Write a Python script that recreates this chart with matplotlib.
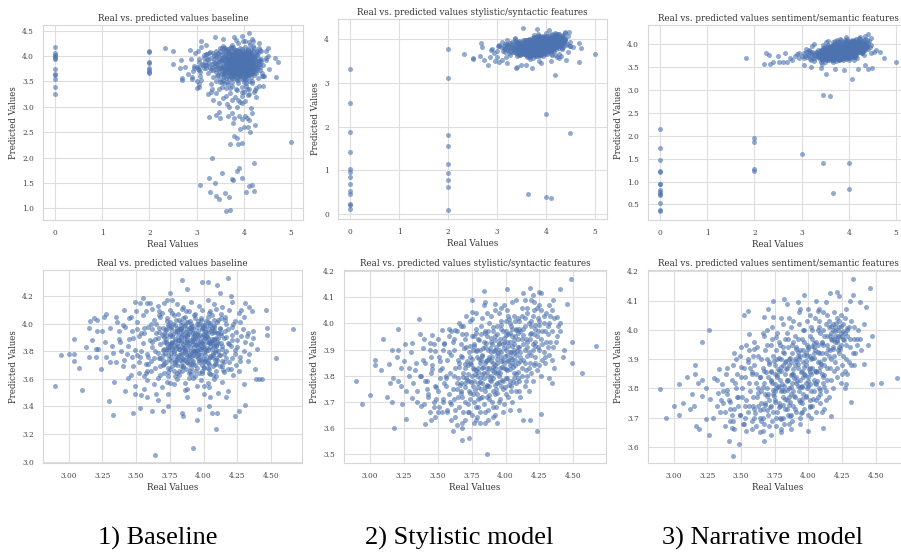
import matplotlib
matplotlib.use("Agg")
import matplotlib.pyplot as plt
import seaborn as sns
import numpy as np

# ---- data (real value, predicted value) ----

# baseline: points seen in the zoomed (lower) panel, outer ring
base_edge = [(2.90,3.55),(2.94,3.77),(3.00,3.78),(3.04,3.78),(3.04,3.89),(3.04,3.73),(3.08,3.68),(3.10,3.52),
    (3.13,3.83),(3.15,3.97),(3.15,3.76),(3.16,4.02),(3.17,3.88),(3.19,4.04),(3.20,3.82),(3.21,4.03),(3.21,3.95),
    (3.22,3.82),(3.20,3.76),(3.24,3.67),(3.25,3.95),(3.26,4.05),(3.27,3.87),(3.28,3.76),(3.28,4.07),(3.30,3.44),
    (3.31,3.97),(3.31,3.72),(3.32,3.84),(3.33,3.34),(3.34,3.58),(3.35,4.05),(3.35,3.72),(3.36,4.01),(3.37,3.95),
    (3.38,3.87),(3.39,3.80),(3.40,3.69),(3.41,4.10),(3.42,3.51),(3.42,3.98),(3.43,3.78),(3.44,3.61),(3.45,3.89),
    (3.46,4.05),(3.47,3.76),(3.48,3.35),(3.49,4.16),(3.49,3.49),(3.49,3.55),(3.51,3.96),(3.52,3.72),(3.53,3.39),
    (3.53,4.15),(3.54,3.48),(3.54,3.93),(3.55,4.19),(3.56,3.53),(3.56,3.62),(3.57,3.64),(3.58,3.47),(3.59,3.76),
    (3.60,4.15),(3.62,3.37),(3.63,3.56),(3.64,3.05),(3.65,3.49),(3.66,3.45),(3.67,4.09),(3.70,3.37),(3.71,4.15),
    (3.74,3.40),(3.74,3.49),(3.75,3.57),(3.75,4.22),(3.77,4.17),(3.84,4.32),(3.84,3.35),(3.85,3.33),(3.86,3.52),
    (3.88,4.25),(3.88,3.47),(3.92,3.10),(3.95,3.30),(3.97,3.38),(3.99,4.30),(4.00,3.49),(4.00,3.55),(4.03,4.30),
    (4.04,3.40),(4.05,3.47),(4.06,3.35),(4.09,3.24),(4.10,4.28),(4.10,3.35),(4.11,3.50),(4.12,4.22),(4.17,3.47),
    (4.18,4.33),(4.18,3.51),(4.20,4.20),(4.23,3.33),(4.26,3.37),(4.26,3.66),(4.30,3.56),(4.31,3.41),(4.31,4.15),
    (4.32,3.91),(4.33,3.73),(4.34,4.12),(4.36,4.09),(4.37,3.95),(4.37,3.90),(4.38,3.67),(4.39,3.60),(4.40,3.82),
    (4.41,3.60),(4.43,3.60),(4.46,4.10),(4.47,3.97),(4.47,3.92),(4.54,3.75),(4.66,3.96)]

# baseline: dense middle of the cloud
base_core = [(3.58,4.15),(3.66,4.13),(3.73,4.17),(3.80,4.14),(3.85,4.12),(3.91,4.16),(3.97,4.13),(4.03,4.17),
    (4.08,4.14),(4.14,4.12),(4.21,4.16),
    (3.50,4.09),(3.62,4.11),(3.69,4.08),(3.75,4.10),(3.81,4.07),(3.84,4.11),(3.89,4.09),(3.94,4.07),(3.99,4.10),
    (4.04,4.08),(4.09,4.11),(4.13,4.07),(4.19,4.10),(4.26,4.08),
    (3.45,4.04),(3.55,4.06),(3.63,4.03),(3.68,4.05),(3.73,4.02),(3.78,4.06),(3.82,4.03),(3.86,4.05),(3.90,4.02),
    (3.93,4.06),(3.98,4.04),(4.02,4.02),(4.06,4.06),(4.11,4.03),(4.16,4.05),(4.23,4.02),(4.30,4.05),
    (3.40,3.99),(3.51,4.01),(3.59,3.98),(3.65,4.00),(3.70,3.97),(3.75,4.01),(3.79,3.99),(3.83,3.97),(3.87,4.01),
    (3.91,3.98),(3.95,4.00),(3.99,3.97),(4.03,4.01),(4.08,3.99),(4.12,3.97),(4.17,4.00),(4.21,3.98),(4.27,4.01),
    (3.47,3.95),(3.56,3.93),(3.62,3.96),(3.67,3.94),(3.72,3.92),(3.76,3.96),(3.80,3.94),(3.84,3.92),(3.88,3.96),
    (3.92,3.93),(3.96,3.95),(4.00,3.92),(4.04,3.96),(4.08,3.94),(4.13,3.92),(4.18,3.96),(4.24,3.94),(4.33,3.93),
    (3.37,3.89),(3.52,3.91),(3.60,3.88),(3.66,3.90),(3.71,3.87),(3.75,3.91),(3.79,3.89),(3.83,3.87),(3.86,3.91),
    (3.90,3.88),(3.94,3.90),(3.98,3.87),(4.02,3.91),(4.06,3.89),(4.10,3.87),(4.15,3.90),(4.21,3.88),(4.28,3.91),
    (3.44,3.84),(3.55,3.86),(3.62,3.83),(3.68,3.85),(3.73,3.82),(3.77,3.86),(3.81,3.84),(3.85,3.82),(3.89,3.86),
    (3.93,3.83),(3.97,3.85),(4.01,3.82),(4.05,3.86),(4.09,3.84),(4.14,3.82),(4.19,3.85),(4.25,3.83),(4.35,3.85),
    (3.33,3.79),(3.49,3.81),(3.58,3.78),(3.64,3.80),(3.70,3.77),(3.74,3.81),(3.78,3.79),(3.82,3.77),(3.86,3.81),
    (3.90,3.78),(3.94,3.80),(3.98,3.77),(4.03,3.81),(4.07,3.79),(4.12,3.77),(4.17,3.80),(4.23,3.78),(4.30,3.80),
    (3.41,3.74),(3.53,3.76),(3.61,3.73),(3.67,3.75),(3.72,3.72),(3.76,3.76),(3.80,3.74),(3.84,3.72),(3.88,3.76),
    (3.92,3.73),(3.96,3.75),(4.00,3.72),(4.05,3.76),(4.10,3.74),(4.15,3.72),(4.21,3.75),(4.27,3.73),
    (3.48,3.69),(3.57,3.71),(3.64,3.68),(3.70,3.70),(3.75,3.67),(3.79,3.71),(3.83,3.69),(3.87,3.67),(3.91,3.71),
    (3.95,3.68),(3.99,3.70),(4.04,3.67),(4.09,3.71),(4.14,3.69),(4.20,3.67),
    (3.52,3.64),(3.61,3.66),(3.68,3.63),(3.74,3.65),(3.79,3.62),(3.84,3.66),(3.89,3.64),(3.94,3.62),(3.99,3.66),
    (4.04,3.64),(4.09,3.62),(4.15,3.65),(4.22,3.63),
    (3.58,3.59),(3.66,3.61),(3.73,3.58),(3.80,3.60),(3.86,3.57),(3.92,3.61),(3.98,3.59),(4.03,3.57),(4.08,3.60),
    (4.14,3.58),(3.69,3.54),(3.78,3.56),(3.88,3.53),(3.95,3.55),(4.04,3.54),
    (3.67,3.97),(3.72,3.89),(3.77,3.83),(3.81,3.91),(3.84,3.78),(3.87,3.94),(3.89,3.71),(3.92,3.85),(3.95,3.98),
    (3.97,3.79),(4.00,3.88),(4.03,3.74),(4.06,3.93),(4.09,3.81),(3.70,3.81),(3.74,3.68),(3.79,3.95),(3.83,3.99),
    (3.86,3.74),(3.88,3.88),(3.91,4.00),(3.94,3.70),(3.96,3.91),(3.99,3.83),(4.01,3.95),(4.04,3.86),(4.07,3.69),
    (4.11,3.90),(3.68,3.75),(3.73,4.04),(3.76,3.86),(3.80,3.70),(3.83,3.88),(3.85,4.04),(3.88,3.81),(3.90,3.66),
    (3.93,3.92),(3.96,3.84),(3.98,4.03),(4.01,3.77),(4.05,3.99),(4.08,3.84),(4.12,3.96),(3.71,3.93),(3.76,3.79),
    (3.82,3.96),(3.86,3.84),(3.89,3.97),(3.92,3.77),(3.97,3.72),(4.00,3.99),(4.03,3.90),(4.07,3.77),(4.13,3.86)]

base_core2 = [(3.62,3.87),(3.66,3.79),(3.69,3.92),(3.71,3.64),(3.73,3.85),(3.74,3.99),(3.76,3.73),(3.77,3.91),
    (3.78,3.66),(3.79,3.84),(3.80,3.97),(3.81,3.76),(3.82,3.63),(3.83,3.93),(3.84,3.83),(3.85,3.69),(3.86,3.99),
    (3.87,3.78),(3.88,3.91),(3.89,3.61),(3.90,3.83),(3.91,3.74),(3.92,3.96),(3.93,3.87),(3.94,3.66),(3.95,3.81),
    (3.96,4.02),(3.97,3.92),(3.98,3.74),(3.99,3.86),(4.00,3.68),(4.01,3.90),(4.02,3.80),(4.03,4.05),(4.04,3.71),
    (4.05,3.83),(4.06,3.97),(4.07,3.63),(4.08,3.89),(4.09,3.75),(4.10,4.01),(4.11,3.80),(4.12,3.69),(4.13,3.93),
    (4.15,3.78),(4.16,4.03),(4.18,3.86),(4.19,3.72),(4.21,3.92),(4.23,3.81),(3.59,3.71),(3.61,4.00),(3.64,3.89),
    (3.67,4.06),(3.70,3.74),(3.72,3.96),(3.75,3.84),(3.77,4.08),(3.79,3.72),(3.81,3.88),(3.83,4.01),(3.84,3.75),
    (3.86,3.87),(3.87,4.09),(3.89,3.77),(3.90,3.95),(3.91,3.68),(3.93,3.80),(3.94,4.04),(3.95,3.89),(3.97,3.64),
    (3.98,3.82),(3.99,3.99),(4.01,3.73),(4.02,3.94),(4.04,3.87),(4.05,4.09),(4.06,3.76),(4.08,3.98),(4.09,3.66),
    (4.11,3.86),(4.13,4.04),(4.14,3.73),(4.16,3.95),(4.18,3.67),(4.20,3.84),(4.22,4.00),(4.25,3.88),(4.27,3.76),
    (4.29,3.96),(3.54,3.80),(3.56,3.97),(3.58,3.66),(3.63,3.75),(3.65,3.93),(3.68,3.69),(3.71,3.82),(3.74,3.62),
    (3.76,3.98),(3.78,3.80),(3.80,3.64),(3.82,3.82),(3.85,3.95),(3.88,3.72),(3.92,3.89),(3.96,3.77),(4.00,3.97),
    (4.03,3.68),(4.07,3.85),(4.10,3.93),(4.14,3.84),(4.17,3.75),(4.24,3.70),(4.31,3.87),(3.48,3.90),(3.51,3.77),
    (3.46,3.63),(4.34,3.78),(4.28,4.10),(3.57,4.09)]

base_core3 = [(3.705,3.905),(3.715,3.785),(3.725,3.955),(3.735,3.835),(3.745,3.745),(3.755,3.925),(3.765,3.815),
    (3.775,3.995),(3.785,3.875),(3.795,3.765),(3.805,3.945),(3.815,3.815),(3.825,3.735),(3.835,3.905),(3.845,3.855),
    (3.855,3.985),(3.865,3.795),(3.875,3.925),(3.885,3.845),(3.895,3.755),(3.905,3.965),(3.915,3.875),(3.925,3.805),
    (3.935,3.935),(3.945,3.765),(3.955,3.855),(3.965,3.995),(3.975,3.815),(3.985,3.905),(3.995,3.745),(4.005,3.855),
    (4.015,3.985),(4.025,3.825),(4.035,3.935),(4.045,3.765),(4.055,3.875),(4.065,3.815),(4.075,3.955),(4.085,3.735),
    (4.095,3.895),(3.725,3.865),(3.745,3.985),(3.765,3.865),(3.785,3.735),(3.805,3.855),(3.825,3.965),(3.845,3.745),
    (3.865,3.895),(3.885,4.015),(3.905,3.805),(3.925,3.905),(3.945,3.845),(3.965,3.735),(3.985,3.965),(4.005,3.795),
    (4.025,3.905),(4.045,4.005),(4.065,3.865),(4.085,3.795),(4.105,3.935),(3.735,3.775),(3.775,3.925),(3.815,3.885),
    (3.855,3.825),(3.895,3.925),(3.935,3.795),(3.975,3.875),(4.015,3.745),(4.055,3.945),(4.095,3.845),(3.795,4.025),
    (3.835,3.785),(3.875,3.725),(3.915,3.985),(3.955,3.925),(3.995,3.835),(4.035,3.865),(4.075,3.885),(4.115,3.775),
    (3.755,3.855),(3.795,3.825),(3.835,3.965),(3.875,3.865),(3.915,3.765),(3.955,3.805),(3.995,3.925),(4.035,3.715),
    (4.075,4.025),(3.705,3.705),(3.765,3.695),(3.845,3.685),(3.925,3.705),(4.005,3.685),(4.085,3.705),(4.145,3.665),
    (3.985,3.645),(3.905,3.635),(3.815,3.655),(4.045,3.635),(4.165,3.905)]

# baseline: points only in the full (upper) panel
base_zero_pred = [4.17, 4.05, 4.02, 4.00, 3.97, 3.94, 3.74, 3.65, 3.62, 3.54, 3.39, 3.25]
base_two_pred = [4.10, 4.07, 3.89, 3.86, 3.76, 3.73, 3.69, 3.66]
base_extra = [(2.33,4.15),(2.50,4.09),(2.50,3.84),(2.64,3.76),(2.67,3.92),(2.69,3.56),(2.70,3.52),(2.76,3.79),
    (2.85,4.11),(2.90,3.59),(2.95,3.80),(2.88,3.95),(2.93,3.70),(2.97,4.05),(2.82,3.65),
    (3.09,4.30),(3.38,4.37),(3.78,4.37),(4.11,4.45),(4.32,4.25),(4.52,4.15),(4.50,3.99),(4.72,3.88),(4.68,3.58),
    (4.40,3.41),(3.55,4.33),(3.95,4.40),(4.20,4.30),(3.20,4.22),
    (3.02,4.10),(3.05,3.95),(3.03,3.75),(3.08,3.60),(3.10,4.18),(3.12,3.85),(3.00,3.50),(3.05,3.45),
    (3.00,3.36),(3.06,3.38),(3.24,3.25),(3.34,3.13),(3.48,3.07),(3.69,3.00),(3.75,3.13),(3.88,3.13),(3.96,3.07),
    (4.03,3.12),(4.25,3.20),(4.16,2.97),(3.55,3.18),(3.62,3.22),(3.82,3.20),(4.10,3.25),(3.42,3.28),(3.95,3.22),
    (4.22,3.30),(3.30,3.30),(3.70,3.28),(4.00,3.30),
    (3.26,2.79),(3.41,2.84),(3.50,2.77),(3.47,2.90),(3.66,2.81),(3.74,2.87),(3.76,2.69),(3.80,2.77),(3.86,2.99),
    (3.90,2.81),(3.92,2.56),(3.96,2.75),(4.03,2.81),(4.07,2.77),(4.10,2.74),(4.08,2.61),(4.01,2.60),(4.13,2.51),
    (4.18,2.87),(4.24,2.64),(3.80,2.43),(3.85,2.38),(3.70,2.26),(3.87,2.26),(3.96,2.28),(5.00,2.31),(3.33,2.00),
    (4.21,1.90),(3.89,1.79),(3.85,1.74),(3.54,1.69),(3.26,1.59),(3.07,1.46),(3.38,1.49),(3.75,1.57),(3.77,1.55),
    (3.97,1.59),(4.17,1.45),(4.11,1.43),(3.28,1.33),(3.40,1.25),(3.47,1.18),(3.60,1.31),(3.69,1.22),(4.04,1.32),
    (4.21,1.34),(3.63,0.95),(3.71,0.97)]

# stylistic model
styl_edge = [(2.90,3.78),(2.94,3.69),(3.00,3.725),(3.04,3.86),(3.04,3.84),(3.08,3.82),(3.10,3.94),(3.13,3.72),
    (3.14,3.845),(3.15,3.77),(3.16,3.70),(3.16,3.90),(3.17,3.79),(3.18,3.60),(3.20,3.87),(3.21,3.78),(3.21,3.98),
    (3.21,3.90),(3.23,3.76),(3.23,3.83),(3.24,3.69),(3.25,3.855),(3.26,3.92),(3.27,3.635),(3.27,3.74),(3.29,3.80),
    (3.29,3.83),(3.30,3.89),(3.31,3.925),(3.31,3.715),(3.32,3.77),(3.33,3.82),(3.34,3.85),(3.35,3.74),(3.36,4.015),
    (3.37,3.80),(3.37,3.96),(3.38,3.685),(3.39,3.905),(3.40,3.94),(3.41,3.615),(3.41,3.85),(3.42,3.78),(3.43,3.72),
    (3.44,3.925),(3.45,3.63),(3.455,3.825),(3.46,3.955),(3.47,3.68),(3.48,3.895),(3.49,3.755),(3.50,3.66),
    (3.52,3.855),(3.53,3.975),(3.54,3.70),(3.55,3.925),(3.56,3.79),(3.57,3.67),(3.58,3.98),(3.61,3.59),(3.63,3.975),
    (3.63,3.67),(3.64,3.75),(3.67,3.99),(3.68,3.62),(3.68,3.555),(3.68,3.60),(3.72,3.66),(3.73,3.56),(3.75,4.09),
    (3.75,4.045),(3.755,4.015),(3.77,3.62),(3.79,3.64),(3.81,3.62),(3.84,4.125),(3.84,4.07),(3.85,4.08),(3.86,3.50),
    (3.87,3.63),(3.91,3.64),(3.92,4.075),(3.94,3.62),(3.97,4.06),(4.01,4.13),(4.03,3.67),(4.08,4.09),(4.10,3.67),
    (4.13,3.63),(4.13,4.115),(4.18,3.63),(4.18,4.135),(4.19,4.09),(4.23,3.59),(4.25,4.12),(4.26,3.655),(4.26,4.115),
    (4.32,4.07),(4.35,4.09),(4.38,4.025),(4.40,4.13),(4.48,4.17),(4.45,4.075),(4.49,3.93),(4.49,3.85),(4.56,3.81),
    (4.67,3.915),(4.32,3.79),(4.34,3.77),(4.42,3.87),(4.40,4.00)]

styl_core = [(3.40,3.69),(3.41,3.78),(3.39,3.86),(3.44,3.66),(3.43,3.73),(3.45,3.81),(3.44,3.90),(3.47,3.70),
    (3.48,3.76),(3.46,3.84),(3.51,3.68),(3.50,3.74),(3.52,3.79),(3.51,3.87),(3.50,3.94),(3.54,3.71),(3.55,3.77),
    (3.53,3.83),(3.54,3.90),(3.57,3.66),(3.58,3.73),(3.56,3.80),(3.57,3.86),(3.58,3.95),(3.60,3.69),(3.61,3.75),
    (3.59,3.81),(3.60,3.88),(3.61,3.93),(3.63,3.64),(3.62,3.71),(3.64,3.77),(3.63,3.83),(3.62,3.90),(3.64,3.97),
    (3.66,3.68),(3.67,3.74),(3.65,3.79),(3.66,3.85),(3.67,3.92),(3.69,3.66),(3.68,3.72),(3.70,3.77),(3.69,3.81),
    (3.68,3.87),(3.70,3.94),(3.69,3.99),(3.72,3.69),(3.73,3.74),(3.71,3.79),(3.72,3.84),(3.73,3.89),(3.71,3.96),
    (3.75,3.65),(3.74,3.71),(3.76,3.76),(3.75,3.80),(3.74,3.85),(3.76,3.90),(3.75,3.95),(3.74,4.01),
    (3.78,3.68),(3.79,3.73),(3.77,3.78),(3.78,3.82),(3.79,3.87),(3.77,3.92),(3.78,3.98),
    (3.81,3.66),(3.80,3.71),(3.82,3.75),(3.81,3.79),(3.80,3.83),(3.82,3.86),(3.81,3.90),(3.80,3.94),(3.82,3.99),
    (3.84,3.69),(3.85,3.74),(3.83,3.77),(3.84,3.81),(3.85,3.85),(3.83,3.88),(3.84,3.93),(3.85,3.97),(3.83,4.02),
    (3.87,3.67),(3.86,3.72),(3.88,3.76),(3.87,3.80),(3.86,3.83),(3.88,3.87),(3.87,3.90),(3.86,3.95),(3.88,4.00),
    (3.90,3.70),(3.91,3.74),(3.89,3.78),(3.90,3.82),(3.91,3.85),(3.89,3.89),(3.90,3.92),(3.91,3.97),(3.89,4.03),
    (3.93,3.68),(3.92,3.73),(3.94,3.77),(3.93,3.81),(3.92,3.84),(3.94,3.88),(3.93,3.91),(3.92,3.95),(3.94,3.99),
    (3.96,3.71),(3.97,3.76),(3.95,3.80),(3.96,3.83),(3.97,3.87),(3.95,3.90),(3.96,3.94),(3.97,3.98),(3.95,4.04),
    (3.99,3.69),(3.98,3.75),(4.00,3.79),(3.99,3.83),(3.98,3.86),(4.00,3.90),(3.99,3.93),(3.98,3.97),(4.00,4.01),
    (4.02,3.72),(4.03,3.78),(4.01,3.82),(4.02,3.86),(4.03,3.89),(4.01,3.93),(4.02,3.96),(4.03,4.00),(4.01,4.05),
    (4.05,3.70),(4.04,3.76),(4.06,3.81),(4.05,3.85),(4.04,3.89),(4.06,3.92),(4.05,3.95),(4.04,3.99),(4.06,4.03),
    (4.08,3.74),(4.09,3.79),(4.07,3.84),(4.08,3.88),(4.09,3.91),(4.07,3.95),(4.08,3.98),(4.09,4.02),
    (4.11,3.72),(4.10,3.78),(4.12,3.83),(4.11,3.87),(4.10,3.91),(4.12,3.94),(4.11,3.97),(4.10,4.01),(4.12,4.06),
    (4.14,3.76),(4.15,3.82),(4.13,3.86),(4.14,3.90),(4.15,3.94),(4.13,3.98),(4.14,4.02),
    (4.17,3.74),(4.16,3.80),(4.18,3.85),(4.17,3.89),(4.16,3.93),(4.18,3.96),(4.17,4.00),(4.16,4.04),
    (4.20,3.78),(4.21,3.84),(4.19,3.88),(4.20,3.92),(4.21,3.96),(4.19,3.99),(4.20,4.03),(4.21,4.08),
    (4.23,3.82),(4.22,3.87),(4.24,3.91),(4.23,3.95),(4.22,3.98),(4.24,4.02),(4.23,4.06),
    (4.26,3.80),(4.27,3.86),(4.25,3.90),(4.26,3.94),(4.27,3.97),(4.25,4.01),(4.26,4.05),
    (4.29,3.85),(4.28,3.89),(4.30,3.93),(4.29,3.97),(4.28,4.00),(4.30,4.04),
    (4.32,3.88),(4.33,3.93),(4.31,3.96),(4.32,4.00),(4.33,4.03),(4.35,3.91),(4.34,3.97),(4.36,4.02),
    (4.38,3.95),(4.39,3.99)]

styl_core2 = [(3.42,3.75),(3.45,3.87),(3.49,3.71),(3.52,3.82),(3.53,3.66),(3.56,3.76),(3.58,3.89),(3.59,3.70),
    (3.62,3.80),(3.62,3.94),(3.65,3.72),(3.65,3.86),(3.67,3.77),(3.68,3.96),(3.70,3.70),(3.70,3.83),(3.71,3.91),
    (3.73,3.78),(3.73,3.66),(3.74,3.87),(3.76,3.73),(3.76,3.83),(3.77,3.95),(3.77,3.70),(3.79,3.80),(3.79,3.90),
    (3.80,3.77),(3.80,3.68),(3.81,3.85),(3.82,3.96),(3.83,3.72),(3.83,3.83),(3.84,3.79),(3.85,3.91),(3.85,3.66),
    (3.86,3.86),(3.86,3.76),(3.87,3.97),(3.88,3.83),(3.88,3.71),(3.89,3.93),(3.89,3.80),(3.90,3.87),(3.91,3.68),
    (3.91,3.79),(3.92,3.90),(3.92,3.83),(3.93,3.75),(3.94,3.96),(3.94,3.85),(3.95,3.70),(3.95,3.92),(3.96,3.81),
    (3.97,3.89),(3.97,4.01),(3.98,3.78),(3.98,3.92),(3.99,3.85),(4.00,3.73),(4.00,3.97),(4.01,3.88),(4.01,3.79),
    (4.02,4.03),(4.03,3.84),(4.03,3.93),(4.04,3.74),(4.04,3.87),(4.05,3.98),(4.06,3.79),(4.06,3.90),(4.07,4.01),
    (4.07,3.86),(4.08,3.77),(4.09,3.94),(4.09,3.85),(4.10,3.98),(4.10,3.74),(4.11,3.89),(4.12,4.03),(4.12,3.80),
    (4.13,3.92),(4.14,3.85),(4.14,3.99),(4.15,3.78),(4.16,3.91),(4.16,4.06),(4.17,3.83),(4.18,3.94),(4.19,4.01),
    (4.19,3.81),(4.20,3.90),(4.21,4.05),(4.22,3.85),(4.22,3.93),(4.24,3.97),(4.25,3.84),(4.25,4.07),(4.27,3.92),
    (4.28,4.03),(4.29,3.87),(4.31,3.99),(4.31,3.91),(4.34,4.05),(4.34,3.86),(4.37,3.93),(4.40,3.97),(4.43,3.90),
    (4.36,3.83),(3.60,3.63),(3.64,3.61),(3.70,3.63),(3.78,3.63),(3.85,3.62),(3.92,3.65),(3.98,3.66),(3.55,3.92),
    (3.60,3.97),(3.66,4.00),(3.71,4.03),(3.78,4.04),(3.86,4.04),(3.92,4.05),(3.99,4.07),(4.05,4.08),(4.14,4.09),
    (4.20,4.11),(3.38,3.80),(3.35,3.70),(3.47,3.92),(3.48,3.64)]

styl_core3 = [(3.655,3.835),(3.665,3.765),(3.675,3.875),(3.685,3.795),(3.695,3.905),(3.705,3.755),(3.715,3.855),
    (3.725,3.805),(3.735,3.915),(3.745,3.775),(3.755,3.865),(3.765,3.825),(3.775,3.745),(3.785,3.895),(3.795,3.815),
    (3.805,3.935),(3.815,3.775),(3.825,3.875),(3.835,3.835),(3.845,3.755),(3.855,3.925),(3.865,3.815),(3.875,3.865),
    (3.885,3.785),(3.895,3.945),(3.905,3.835),(3.915,3.895),(3.925,3.765),(3.935,3.865),(3.945,3.815),(3.955,3.925),
    (3.965,3.855),(3.975,3.785),(3.985,3.945),(3.995,3.875),(4.005,3.825),(4.015,3.915),(4.025,3.765),(4.035,3.965),
    (4.045,3.865),(4.055,3.835),(4.065,3.935),(4.075,3.805),(4.085,3.895),(4.095,3.965),(4.105,3.855),(3.675,3.735),
    (3.705,3.845),(3.735,3.735),(3.765,3.915),(3.795,3.755),(3.825,3.805),(3.855,3.855),(3.885,3.905),(3.915,3.815),
    (3.945,3.885),(3.975,3.835),(4.005,3.955),(4.035,3.825),(4.065,3.885),(4.095,3.815),(3.715,3.785),(3.745,3.845),
    (3.775,3.805),(3.805,3.865),(3.835,3.905),(3.865,3.765),(3.895,3.855),(3.925,3.935),(3.955,3.775),(3.985,3.905),
    (4.015,3.855),(4.045,3.915),(4.075,3.975),(3.785,3.965),(3.845,3.965),(3.905,3.985),(3.965,3.995),(4.025,4.015),
    (3.815,3.715),(3.875,3.725),(3.935,3.735),(3.995,3.755),(4.055,3.775),(4.125,3.955),(4.155,3.875),(4.185,3.965),
    (4.215,3.915),(4.245,3.995),(4.215,3.995)]

styl_zero_pred = [3.32, 2.53, 1.88, 1.42, 1.04, 0.975, 0.86, 0.69, 0.53, 0.46, 0.24, 0.22, 0.12]
styl_two_pred = [3.77, 3.12, 1.81, 1.55, 1.15, 0.945, 0.78, 0.61, 0.09]
styl_extra = [(3.63,0.46),(4.01,0.40),(4.10,0.37),(4.00,2.29),(4.50,1.85),(5.00,3.66),(4.68,3.48),(4.71,3.80),
    (4.18,3.19),(2.33,3.66),(2.50,3.55),(2.51,3.57),(2.67,3.91),(2.70,3.82),(2.65,3.62),(2.74,3.53),(2.86,3.59),
    (2.82,3.41),(2.87,3.76),(2.95,3.49),(3.05,3.47),(3.54,4.25),(3.81,4.24),(4.07,4.21),(4.39,4.16),(3.37,4.00),
    (3.38,3.34),(3.40,3.36),(3.71,3.34),(4.42,3.53),(4.27,3.57),(4.50,3.85),(3.00,3.60),(3.02,3.85),(3.10,3.52),
    (3.20,3.45),(3.50,3.40),(3.60,3.42),(3.90,3.45),(4.10,3.50),(4.30,3.62),(4.45,3.70)]

# narrative model
narr_edge = [(2.90,3.797),(2.94,3.70),(3.00,3.74),(3.04,3.815),(3.04,3.71),(3.07,3.75),(3.10,3.84),(3.12,3.73),
    (3.14,3.78),(3.15,3.74),(3.16,3.88),(3.16,3.85),(3.17,3.67),(3.19,3.66),(3.18,3.82),(3.21,3.96),(3.21,3.83),
    (3.21,3.775),(3.24,3.695),(3.24,3.80),(3.26,4.00),(3.26,3.64),(3.27,3.765),(3.29,3.70),(3.30,3.835),(3.32,3.74),
    (3.33,3.785),(3.34,3.865),(3.345,3.72),(3.36,3.815),(3.37,3.75),(3.385,3.67),(3.40,3.87),(3.40,3.795),
    (3.41,3.62),(3.42,3.755),(3.42,3.73),(3.43,3.665),(3.44,3.69),(3.44,3.57),(3.45,3.92),(3.455,3.82),(3.46,3.90),
    (3.47,3.77),(3.485,3.61),(3.49,3.71),(3.50,3.875),(3.515,3.68),(3.52,4.05),(3.54,3.655),(3.55,4.065),
    (3.55,3.90),(3.56,3.985),(3.56,3.93),(3.58,3.855),(3.60,3.935),(3.64,3.84),(3.65,3.69),(3.66,3.655),
    (3.67,3.62),(3.67,4.045),(3.69,4.00),(3.70,4.07),(3.74,4.10),(3.74,4.045),(3.76,3.975),(3.80,3.65),
    (3.82,4.105),(3.84,4.09),(3.86,3.68),(3.89,4.03),(3.92,4.095),(3.94,4.07),(3.965,4.12),(4.00,3.655),
    (4.015,4.05),(4.06,4.10),(4.07,4.065),(4.11,3.665),(4.13,4.095),(4.16,4.125),(4.17,3.705),(4.215,4.13),
    (4.23,4.115),(4.28,4.07),(4.31,4.10),(4.33,4.175),(4.33,4.12),(4.32,3.755),(4.34,3.88),(4.36,3.97),
    (4.385,4.095),(4.41,3.885),(4.39,3.93),(4.43,4.08),(4.46,4.145),(4.47,3.98),(4.475,3.815),(4.54,3.82),
    (4.66,3.835),(4.29,3.85),(4.28,3.815)]

narr_core = [(3.38,3.72),(3.37,3.79),(3.39,3.85),(3.42,3.69),(3.41,3.76),(3.43,3.83),(3.45,3.73),(3.46,3.80),
    (3.44,3.88),(3.49,3.71),(3.48,3.77),(3.50,3.84),(3.49,3.91),(3.52,3.68),(3.53,3.74),(3.51,3.80),(3.52,3.87),
    (3.55,3.72),(3.54,3.76),(3.56,3.82),(3.55,3.89),(3.54,3.95),(3.58,3.69),(3.59,3.74),(3.57,3.79),(3.58,3.85),
    (3.59,3.91),(3.61,3.67),(3.60,3.73),(3.62,3.77),(3.61,3.82),(3.60,3.88),(3.62,3.94),(3.64,3.70),(3.65,3.75),
    (3.63,3.80),(3.64,3.84),(3.65,3.90),(3.67,3.68),(3.66,3.73),(3.68,3.78),(3.67,3.82),(3.66,3.87),(3.68,3.93),
    (3.67,3.98),(3.70,3.71),(3.71,3.76),(3.69,3.80),(3.70,3.84),(3.71,3.89),(3.69,3.95),
    (3.73,3.69),(3.72,3.74),(3.74,3.78),(3.73,3.82),(3.72,3.86),(3.74,3.91),(3.73,3.97),
    (3.76,3.67),(3.77,3.72),(3.75,3.76),(3.76,3.80),(3.77,3.84),(3.75,3.88),(3.76,3.93),(3.77,3.99),
    (3.79,3.70),(3.78,3.75),(3.80,3.79),(3.79,3.83),(3.78,3.86),(3.80,3.90),(3.79,3.95),
    (3.82,3.68),(3.83,3.73),(3.81,3.77),(3.82,3.81),(3.83,3.85),(3.81,3.88),(3.82,3.92),(3.83,3.97),(3.81,4.02),
    (3.85,3.71),(3.84,3.76),(3.86,3.80),(3.85,3.83),(3.84,3.87),(3.86,3.90),(3.85,3.94),(3.84,3.99),
    (3.88,3.69),(3.89,3.74),(3.87,3.78),(3.88,3.82),(3.89,3.85),(3.87,3.89),(3.88,3.92),(3.89,3.96),(3.87,4.01),
    (3.91,3.72),(3.90,3.77),(3.92,3.81),(3.91,3.84),(3.90,3.88),(3.92,3.91),(3.91,3.94),(3.90,3.98),
    (3.94,3.70),(3.95,3.75),(3.93,3.79),(3.94,3.83),(3.95,3.86),(3.93,3.90),(3.94,3.93),(3.95,3.97),(3.93,4.02),
    (3.97,3.73),(3.96,3.78),(3.98,3.82),(3.97,3.85),(3.96,3.89),(3.98,3.92),(3.97,3.96),(3.96,4.00),
    (4.00,3.71),(4.01,3.76),(3.99,3.80),(4.00,3.84),(4.01,3.87),(3.99,3.91),(4.00,3.94),(4.01,3.98),(3.99,4.03),
    (4.03,3.74),(4.02,3.79),(4.04,3.83),(4.03,3.87),(4.02,3.90),(4.04,3.94),(4.03,3.97),(4.02,4.01),
    (4.06,3.72),(4.07,3.77),(4.05,3.82),(4.06,3.86),(4.07,3.89),(4.05,3.93),(4.06,3.96),(4.07,4.00),(4.05,4.04),
    (4.09,3.75),(4.08,3.80),(4.10,3.85),(4.09,3.89),(4.08,3.92),(4.10,3.96),(4.09,3.99),(4.08,4.03),
    (4.12,3.73),(4.13,3.79),(4.11,3.84),(4.12,3.88),(4.13,3.92),(4.11,3.95),(4.12,3.98),(4.13,4.02),(4.11,4.06),
    (4.15,3.77),(4.14,3.83),(4.16,3.87),(4.15,3.91),(4.14,3.95),(4.16,3.98),(4.15,4.01),(4.14,4.05),
    (4.18,3.80),(4.19,3.86),(4.17,3.90),(4.18,3.94),(4.19,3.97),(4.17,3.99),(4.18,4.02),(4.19,4.06),
    (4.21,3.84),(4.20,3.89),(4.22,3.93),(4.21,3.96),(4.20,3.98),(4.22,4.00),(4.21,4.04),
    (4.24,3.82),(4.25,3.88),(4.23,3.92),(4.24,3.95),(4.25,3.98),(4.23,4.01),(4.24,4.05),
    (4.27,3.86),(4.26,3.91),(4.28,3.95),(4.27,3.99),(4.26,4.02),(4.30,3.89),(4.31,3.94),(4.29,3.98),(4.30,4.01),
    (4.33,3.92),(4.34,3.97),(4.32,4.03),(4.36,3.95),(4.37,4.00)]

narr_core2 = [(3.40,3.78),(3.43,3.71),(3.47,3.85),(3.48,3.74),(3.51,3.77),(3.53,3.70),(3.53,3.84),(3.56,3.74),
    (3.57,3.87),(3.59,3.77),(3.60,3.70),(3.61,3.85),(3.63,3.74),(3.63,3.91),(3.65,3.79),(3.66,3.70),(3.67,3.86),
    (3.68,3.75),(3.69,3.90),(3.70,3.78),(3.71,3.67),(3.72,3.83),(3.72,3.95),(3.74,3.72),(3.75,3.85),(3.75,3.79),
    (3.76,3.70),(3.77,3.90),(3.78,3.81),(3.78,3.96),(3.79,3.74),(3.80,3.86),(3.81,3.70),(3.81,3.94),(3.82,3.79),
    (3.83,3.89),(3.84,3.73),(3.84,3.83),(3.85,3.97),(3.86,3.77),(3.86,3.88),(3.87,3.71),(3.88,3.85),(3.88,3.95),
    (3.89,3.79),(3.90,3.90),(3.90,3.73),(3.91,3.82),(3.92,3.97),(3.92,3.87),(3.93,3.76),(3.94,3.91),(3.95,3.81),
    (3.95,3.72),(3.96,3.93),(3.96,3.84),(3.97,4.00),(3.98,3.77),(3.98,3.88),(3.99,3.95),(4.00,3.81),(4.01,3.91),
    (4.01,3.74),(4.02,3.85),(4.03,4.00),(4.04,3.79),(4.04,3.92),(4.05,3.86),(4.06,3.76),(4.07,3.95),(4.08,3.86),
    (4.08,4.01),(4.09,3.78),(4.10,3.92),(4.11,3.82),(4.11,4.00),(4.12,3.90),(4.13,3.76),(4.14,3.98),(4.14,3.87),
    (4.15,4.03),(4.16,3.93),(4.17,3.83),(4.17,3.97),(4.18,4.00),(4.19,3.91),(4.20,3.96),(4.20,4.01),(4.21,3.87),
    (4.22,3.98),(4.23,4.03),(4.23,3.94),(4.24,3.99),(4.25,3.85),(4.26,3.97),(4.27,4.04),(4.28,3.90),(4.29,4.00),
    (4.31,3.97),(4.32,3.88),(4.34,4.01),(4.35,3.92),(4.38,3.97),(4.41,4.02),(3.58,3.66),(3.64,3.65),(3.72,3.64),
    (3.80,3.66),(3.87,3.66),(3.94,3.68),(4.02,3.70),(4.10,3.72),(3.60,3.96),(3.66,3.99),(3.73,4.01),(3.80,4.04),
    (3.86,4.04),(3.93,4.06),(4.00,4.07),(4.08,4.07),(3.35,3.76),(3.32,3.83),(3.45,3.66),(3.50,3.94),(4.44,3.95),
    (4.27,3.80)]

narr_core3 = [(3.665,3.805),(3.675,3.745),(3.685,3.855),(3.695,3.775),(3.705,3.885),(3.715,3.735),(3.725,3.825),
    (3.735,3.795),(3.745,3.895),(3.755,3.755),(3.765,3.845),(3.775,3.805),(3.785,3.735),(3.795,3.875),(3.805,3.815),
    (3.815,3.925),(3.825,3.765),(3.835,3.865),(3.845,3.825),(3.855,3.745),(3.865,3.905),(3.875,3.805),(3.885,3.865),
    (3.895,3.775),(3.905,3.935),(3.915,3.825),(3.925,3.885),(3.935,3.755),(3.945,3.855),(3.955,3.805),(3.965,3.915),
    (3.975,3.845),(3.985,3.775),(3.995,3.935),(4.005,3.865),(4.015,3.815),(4.025,3.905),(4.035,3.765),(4.045,3.955),
    (4.055,3.855),(4.065,3.825),(4.075,3.925),(4.085,3.795),(4.095,3.885),(4.105,3.955),(4.115,3.845),(3.695,3.725),
    (3.725,3.855),(3.755,3.815),(3.785,3.905),(3.815,3.745),(3.845,3.795),(3.875,3.845),(3.905,3.895),(3.935,3.805),
    (3.965,3.875),(3.995,3.825),(4.025,3.945),(4.055,3.815),(4.085,3.875),(4.115,3.805),(3.745,3.775),(3.775,3.865),
    (3.805,3.795),(3.835,3.895),(3.865,3.755),(3.895,3.835),(3.925,3.925),(3.955,3.765),(3.985,3.895),(4.015,3.855),
    (4.045,3.905),(4.145,3.935),(4.175,3.965),(4.195,3.995),(4.225,3.975),(4.245,4.015),(4.265,3.965),(4.235,3.935),
    (4.205,4.025),(4.255,3.995),(4.285,4.005),(4.165,4.015),(4.185,3.935),(4.215,3.965),(3.795,3.695),(3.865,3.705),
    (3.945,3.715),(4.015,3.735),(3.645,3.725),(3.625,3.785),(3.605,3.715)]

narr_zero_pred = [2.14, 1.74, 1.48, 1.24, 1.21, 0.95, 0.94, 0.82, 0.77, 0.73, 0.71, 0.53, 0.38, 0.35]
narr_two_pred = [1.95, 1.86, 1.28, 1.23]
narr_extra = [(1.83,3.69),(3.00,1.61),(3.45,1.41),(4.00,1.40),(3.67,0.76),(4.00,0.84),(3.46,2.88),(3.61,2.87),
    (4.06,3.24),(5.00,3.62),(4.74,3.70),(4.58,3.87),(4.49,3.47),(4.40,3.46),(3.51,3.34),(2.20,3.56),(2.25,3.81),
    (2.32,3.77),(2.34,3.56),(2.39,3.61),(2.50,3.74),(2.52,3.61),(2.61,3.61),(2.64,3.81),(2.68,3.61),(3.45,3.98),
    (3.94,4.15),(4.40,4.23),(4.23,4.16),(2.75,3.70),(2.80,3.65),(2.85,3.75),(3.05,3.55),(3.20,3.50),(3.40,3.48),
    (3.70,3.45),(3.90,3.43),(4.20,3.45),(4.35,3.55),(2.95,3.80),(3.10,3.90)]

titles = ["Real vs. predicted values baseline",
          "Real vs. predicted values stylistic/syntactic features",
          "Real vs. predicted values sentiment/semantic features"]
captions = ["1) Baseline", "2) Stylistic model", "3) Narrative model"]

# ---- plotting ----
sns.set_style("whitegrid")
plt.rcParams["font.family"] = ["DejaVu Serif"]
plt.rcParams["axes.edgecolor"] = "#d6d6d6"
plt.rcParams["grid.color"] = "#dedede"

W, H = 901, 552
fig = plt.figure(figsize=(W / 100, H / 100), dpi=100)


def add_ax(l, t, r, b):
    return fig.add_axes([l / W, 1 - b / H, (r - l) / W, (b - t) / H])


def draw(ax, pts, title, xlim, ylim):
    pts = np.array(pts)
    ax.scatter(pts[:, 0], pts[:, 1], s=13, color="#4C72B0", alpha=0.6, linewidths=0)
    ax.set_xlim(*xlim)
    ax.set_ylim(*ylim)
    ax.set_title(title, fontsize=6.3, pad=3, color="#333333")
    ax.set_xlabel("Real Values", fontsize=6.3, labelpad=2, color="#333333")
    ax.set_ylabel("Predicted Values", fontsize=6.2, labelpad=3, color="#333333")
    ax.tick_params(labelsize=5.3, pad=3, colors="#444444")
    for sp in ax.spines.values():
        sp.set_linewidth(0.8)


def full(zoom_pts, zero, two, extra):
    return zoom_pts + extra + [(0.0, v) for v in zero] + [(2.0, v) for v in two]


base_all = base_edge + base_core + base_core2 + base_core3
styl_all = styl_edge + styl_core + styl_core2 + styl_core3
narr_all = narr_edge + narr_core + narr_core2 + narr_core3

ax1 = add_ax(43, 25, 303, 220)
draw(ax1, full(base_all, base_zero_pred, base_two_pred, base_extra), titles[0],
     (-0.25, 5.25), (0.77, 4.61))
ax2 = add_ax(338, 19, 607, 219)
draw(ax2, full(styl_all, styl_zero_pred, styl_two_pred, styl_extra), titles[1],
     (-0.25, 5.25), (-0.11, 4.46))
ax3 = add_ax(648, 25, 908, 220)
draw(ax3, full(narr_all, narr_zero_pred, narr_two_pred, narr_extra), titles[2],
     (-0.25, 5.25), (0.16, 4.42))

ax4 = add_ax(43, 270, 302, 463)
draw(ax4, base_all, titles[0], (2.81, 4.73), (2.99, 4.39))
ax5 = add_ax(344, 270, 606, 463)
draw(ax5, styl_all, titles[1], (2.81, 4.74), (3.466, 4.204))
ax6 = add_ax(648, 270, 908, 463)
draw(ax6, narr_all, titles[2], (2.81, 4.74), (3.545, 4.205))

for x0, txt in zip([98, 365, 662], captions):
    fig.text(x0 / W, 1 - 545 / H, txt, ha="left", va="baseline", fontsize=19,
             family="Liberation Serif", color="black")

fig.savefig("out.png", dpi=100)
